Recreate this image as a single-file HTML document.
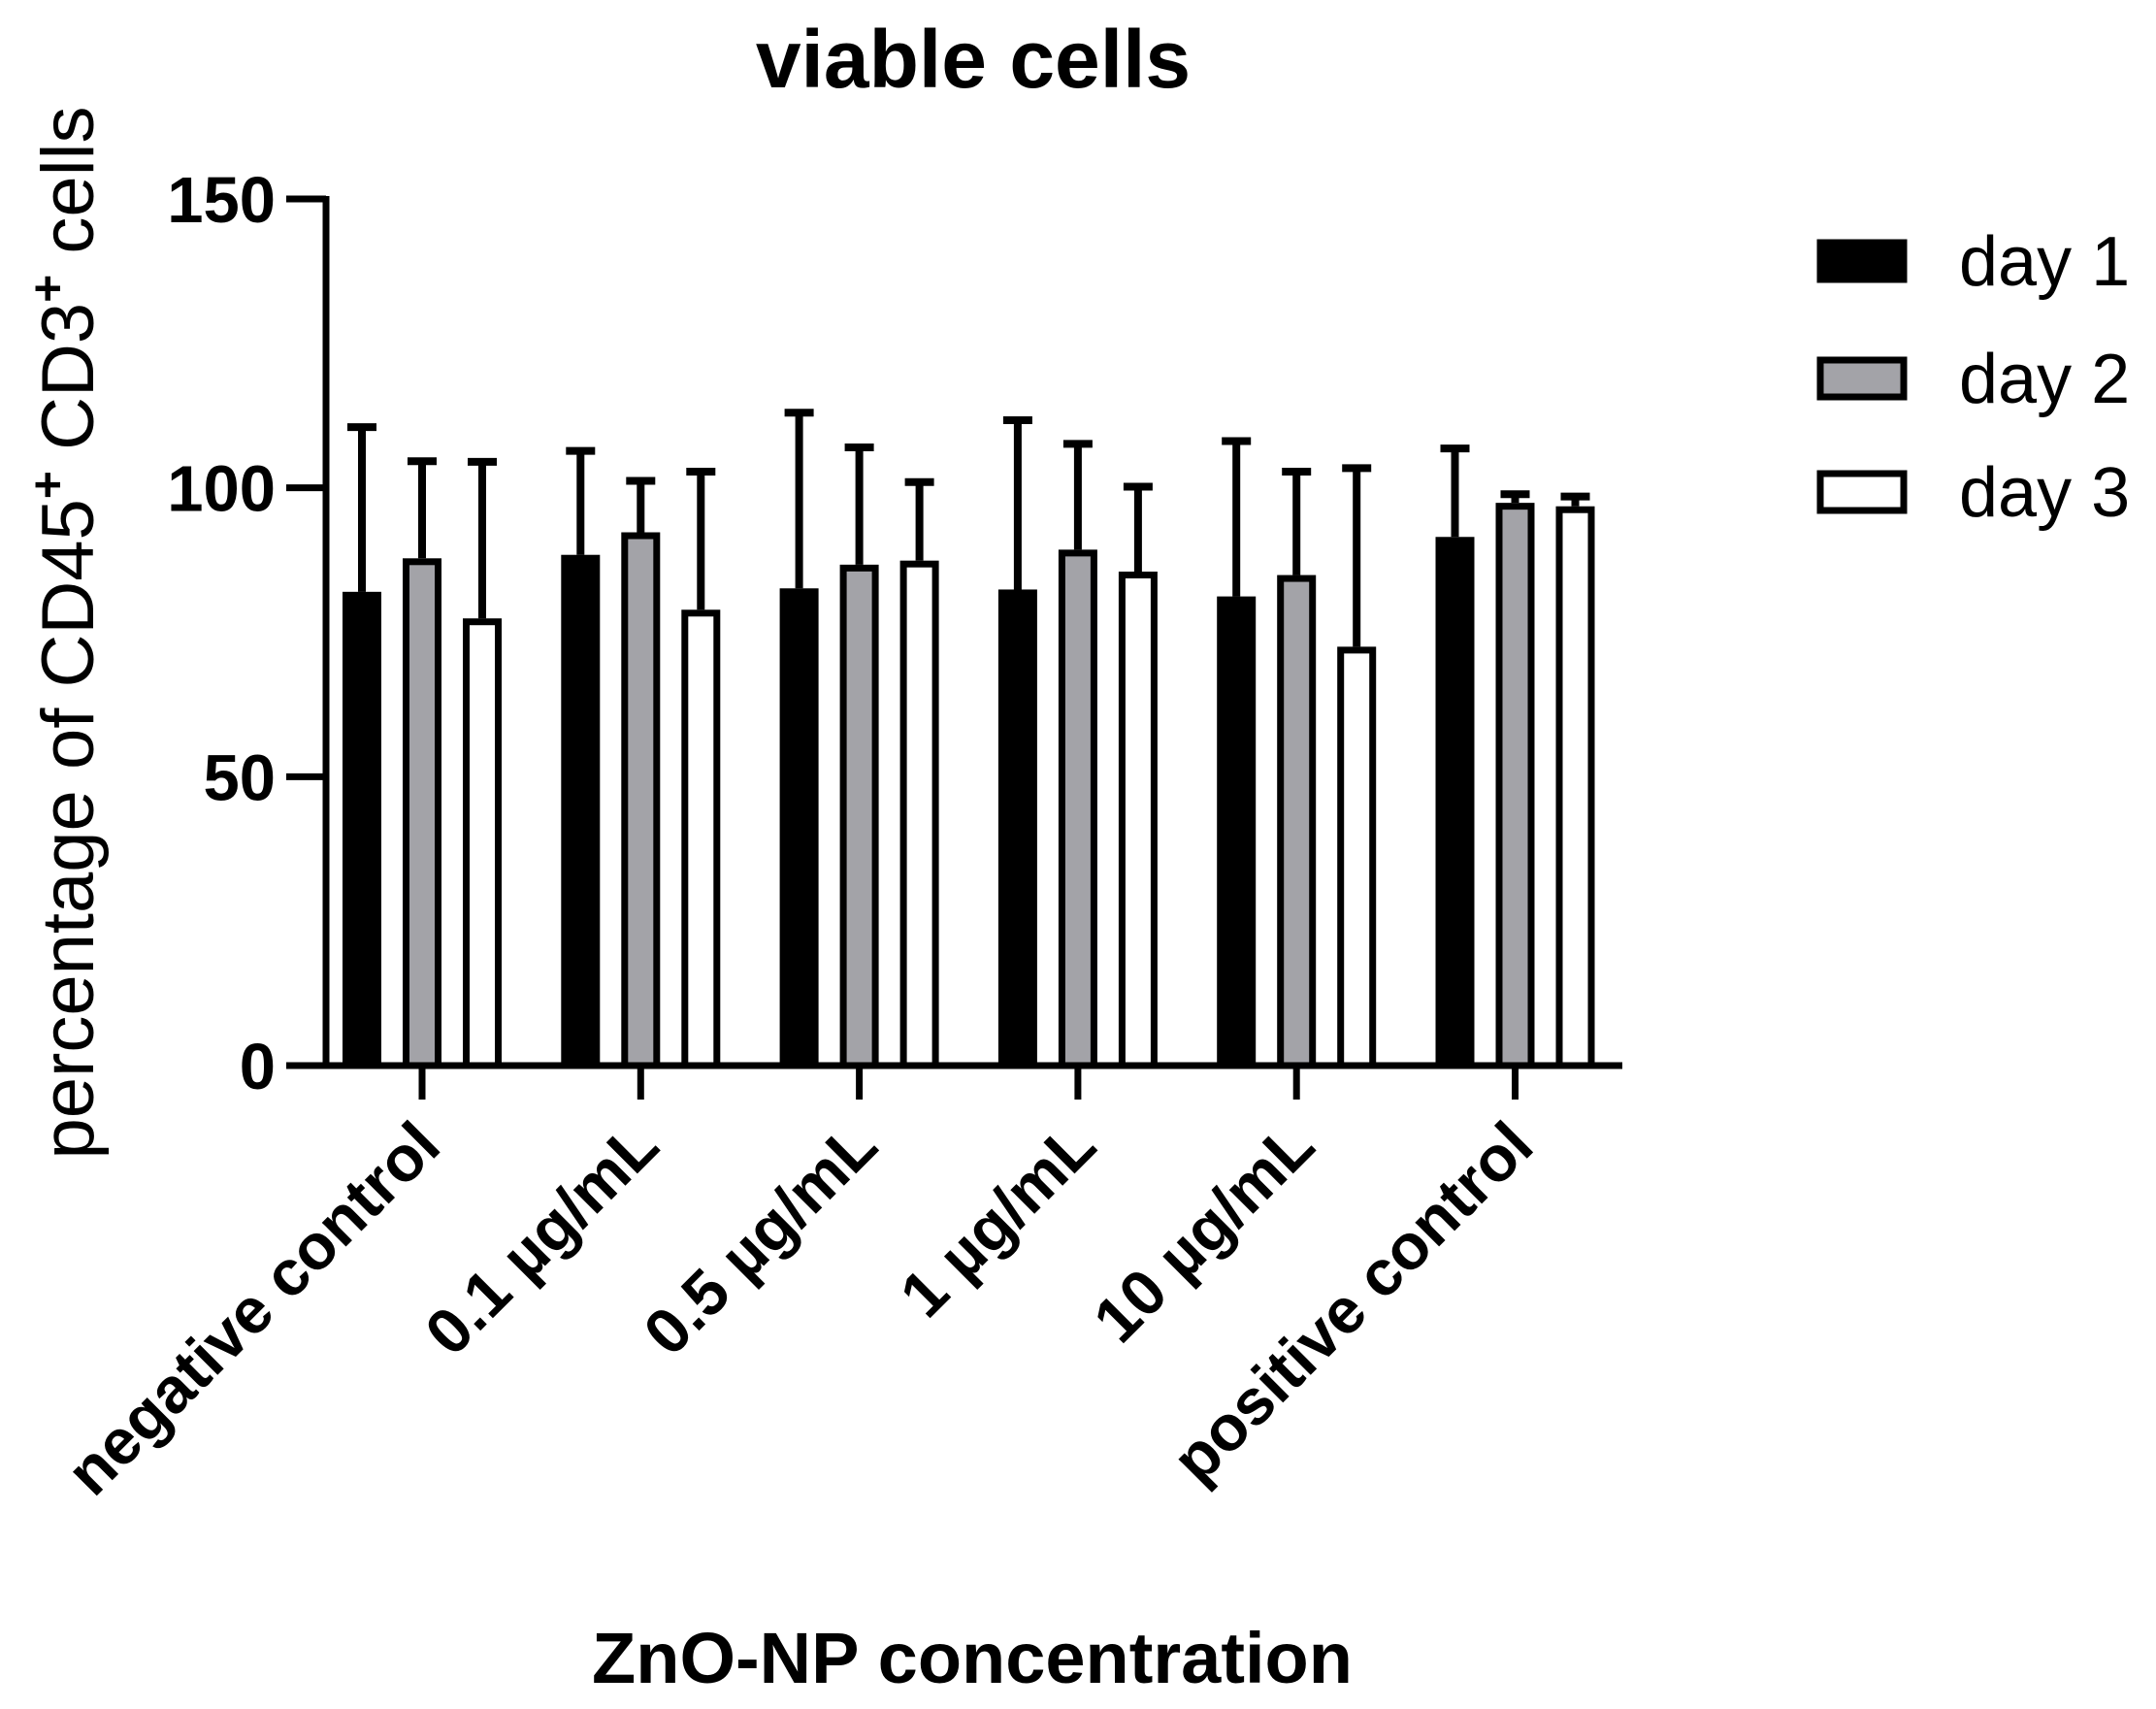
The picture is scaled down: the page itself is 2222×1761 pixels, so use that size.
<!DOCTYPE html>
<html><head><meta charset="utf-8"><style>
html,body{margin:0;padding:0;background:#fff;}
svg{display:block;font-family:"Liberation Sans",Arial,sans-serif;}
</style></head><body>
<svg id="chart" width="2222" height="1761" viewBox="0 0 2222 1761">
<text x="1003" y="90" text-anchor="middle" font-size="84" font-weight="bold">viable cells</text>
<text transform="translate(96,652) rotate(-90)" text-anchor="middle" font-size="76">percentage of CD45<tspan dy="-30" font-size="50" font-weight="bold">+</tspan><tspan dy="30"> CD3</tspan><tspan dy="-30" font-size="50" font-weight="bold">+</tspan><tspan dy="30"> cells</tspan></text>
<text x="1002" y="1734" text-anchor="middle" font-size="74" font-weight="bold">ZnO-NP concentration</text>
<g id="plot"></g>
<g id="legend"></g>
</svg>
<script>
const categories = ["negative control","0.1 µg/mL","0.5 µg/mL","1 µg/mL","10 µg/mL","positive control"];
const seriesNames = ["day 1","day 2","day 3"];
const day1 = [82.0, 88.4, 82.6, 82.4, 81.2, 91.5];
const day2 = [87.8, 92.3, 86.7, 89.3, 84.9, 97.4];
const day3 = [77.4, 78.9, 87.4, 85.5, 72.5, 96.8];
const day1Err = [110.5, 106.4, 113.0, 111.7, 108.1, 106.8];
const day2Err = [104.6, 101.2, 107.0, 107.6, 102.8, 98.9];
const day3Err = [104.5, 102.8, 101.0, 100.2, 103.4, 98.5];
const yTicks = [0, 50, 100, 150];

const NS = "http://www.w3.org/2000/svg";
const axX = 336, y0 = 1098, y150 = 205, xEnd = 1672;
const firstGroup = 435, groupStep = 225.3, barOff = 62, barW = 40, bw = 7;
function yScale(v){ return y0 - (v/150)*(y0 - y150); }
function xScale(i){ return firstGroup + i*groupStep; }
const fills = ["#000","#a3a3a8","#fff"];
const vals = [day1, day2, day3];
const errs = [day1Err, day2Err, day3Err];
const plot = document.getElementById('plot');
function mk(tag, attrs, parent){ const e=document.createElementNS(NS,tag); for(const k in attrs) e.setAttribute(k,attrs[k]); (parent||plot).appendChild(e); return e; }

categories.forEach((c,i)=>{
  for(let s=0;s<3;s++){
    const cx = xScale(i) + (s-1)*barOff;
    const top = yScale(vals[s][i]);
    const et = yScale(errs[s][i]);
    const eb = mk('line',{x1:cx,x2:cx,y1:et,y2:top,stroke:'#000','stroke-width':8});
    
    
    const cap = mk('line',{x1:cx-15,x2:cx+15,y1:et,y2:et,stroke:'#000','stroke-width':8});
    
    
    const r = mk('rect',{x:cx-barW/2+bw/2,y:top+bw/2,width:barW-bw,height:y0-top-bw/2,fill:fills[s],stroke:'#000','stroke-width':bw});
    
    
  }
  const t = mk('line',{x1:xScale(i),x2:xScale(i),y1:y0,y2:y0+35,stroke:'#000','stroke-width':7});
  
  
  const lx = xScale(i)+22, ly = y0+86;
  const lab = mk('text',{transform:`translate(${lx},${ly}) rotate(-45)`,'text-anchor':'end','font-size':66,'font-weight':'bold'});
  lab.textContent = c;
  
  
});
const ya = mk('line',{x1:axX,x2:axX,y1:y150-3,y2:y0+3,stroke:'#000','stroke-width':7});


const xa = mk('line',{x1:axX-3,x2:xEnd,y1:y0,y2:y0,stroke:'#000','stroke-width':7});


yTicks.forEach(v=>{
  const y = yScale(v);
  const tk = mk('line',{x1:295,x2:axX,y1:y,y2:y,stroke:'#000','stroke-width':7});
  
  
  const tl = mk('text',{x:284,y:y+24,'text-anchor':'end','font-size':67,'font-weight':'bold'});
  tl.textContent = v;
  
  
});
const legend = document.getElementById('legend');
const legY = [269, 390, 507];
seriesNames.forEach((n,s)=>{
  const g = mk('g',{},legend);
  
  
  mk('rect',{x:1876,y:legY[s]-19,width:86,height:38,fill:fills[s],stroke:'#000','stroke-width':7},g);
  const t = mk('text',{x:2019,y:legY[s]+25,'font-size':72},g);
  t.textContent = n;
});
</script>
</body></html>
